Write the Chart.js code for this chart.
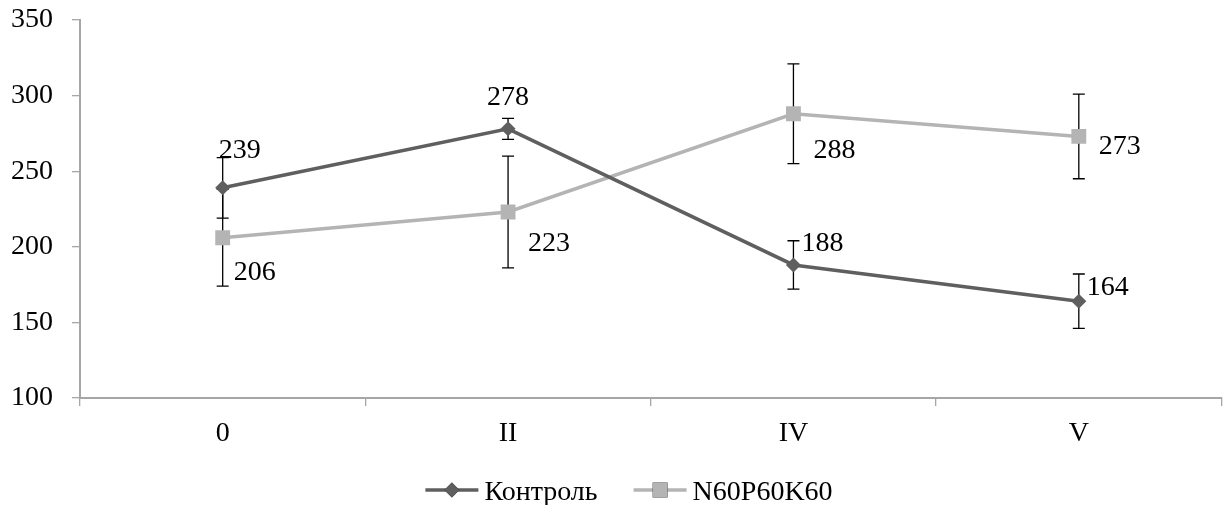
<!DOCTYPE html>
<html>
<head>
<meta charset="utf-8">
<script src="https://cdn.jsdelivr.net/npm/chart.js@4.4.0/dist/chart.umd.min.js"></script>
<style>
  html, body { margin: 0; padding: 0; background: #fff; }
  #wrap { width: 1232px; height: 505px; }
</style>
</head>
<body>
<div id="wrap"><canvas id="graf"></canvas></div>
<script>
// dados do gráfico
const categorias = ['0', 'II', 'IV', 'V'];
const controle = [239, 278, 188, 164];
const controleErro = [20, 7, 16, 18];
const npk = [206, 223, 288, 273];
const npkErro = [32, 37, 33, 28];
const yTicks = [100, 150, 200, 250, 300, 350];

const fonte = '"Liberation Serif", "Times New Roman", serif';
const tam = 28;
const corControle = '#5f5f5f';
const corNpk = '#b4b4b4';
const corEixo = '#a6a6a6';

// deslocamento dos rótulos (centro do texto em relação ao ponto)
const posRotulos = [
  [[17, -39], [0, -33], [29, -23], [29, -16]],
  [[32, 33], [41, 29], [41, 35], [41, 8]]
];

const barrasErro = {
  id: 'barrasErro',
  beforeDatasetsDraw(chart) {
    const ctx = chart.ctx;
    const y = chart.scales.y;
    ctx.save();
    ctx.strokeStyle = '#000';
    ctx.lineWidth = 1.3;
    chart.data.datasets.forEach((ds, i) => {
      const meta = chart.getDatasetMeta(i);
      meta.data.forEach((pt, j) => {
        const v = ds.data[j], e = ds.erro[j];
        const y1 = y.getPixelForValue(v + e), y2 = y.getPixelForValue(v - e);
        ctx.beginPath();
        ctx.moveTo(pt.x, y1); ctx.lineTo(pt.x, y2);
        ctx.moveTo(pt.x - 6, y1); ctx.lineTo(pt.x + 6, y1);
        ctx.moveTo(pt.x - 6, y2); ctx.lineTo(pt.x + 6, y2);
        ctx.stroke();
      });
    });
    ctx.restore();
  },
  afterDatasetsDraw(chart) {
    const ctx = chart.ctx;
    ctx.save();
    ctx.fillStyle = '#000';
    ctx.font = tam + 'px ' + fonte;
    ctx.textAlign = 'center';
    ctx.textBaseline = 'alphabetic';
    chart.data.datasets.forEach((ds, i) => {
      const meta = chart.getDatasetMeta(i);
      meta.data.forEach((pt, j) => {
        const d = posRotulos[i][j];
        ctx.fillText(String(ds.data[j]), pt.x + d[0], pt.y + d[1] + 9.5);
      });
    });
    ctx.restore();
  },
  afterDraw(chart) {
    // legenda com linha + marcador
    const ctx = chart.ctx;
    ctx.save();
    ctx.font = tam + 'px ' + fonte;
    const itens = chart.data.datasets.map(ds => ({
      ds, w: 53 + 6 + ctx.measureText(ds.label).width
    }));
    const gap = 36;
    const total = itens.reduce((s, it) => s + it.w, 0) + gap * (itens.length - 1);
    let x = chart.width / 2 + 13 - total / 2;
    const yl = 490;
    itens.forEach(it => {
      ctx.strokeStyle = it.ds.borderColor;
      ctx.lineWidth = 3.5;
      ctx.beginPath();
      ctx.moveTo(x, yl); ctx.lineTo(x + 53, yl);
      ctx.stroke();
      Chart.helpers.drawPoint(ctx, {
        pointStyle: it.ds.pointStyle, radius: it.ds.pointRadius,
        borderWidth: 0
      }, x + 26.5, yl);
      ctx.fillStyle = it.ds.borderColor;
      ctx.fill();
      ctx.fillStyle = '#000';
      ctx.textAlign = 'left';
      ctx.textBaseline = 'alphabetic';
      ctx.fillText(it.ds.label, x + 59, yl + 10);
      x += it.w + gap;
    });
    ctx.restore();
  }
};

new Chart(document.getElementById('graf'), {
  type: 'line',
  data: {
    labels: categorias,
    datasets: [
      {
        label: 'Контроль',
        data: controle,
        erro: controleErro,
        borderColor: corControle,
        backgroundColor: corControle,
        borderWidth: 3.5,
        pointStyle: 'rectRot',
        pointRadius: 7.5,
        pointBorderWidth: 0,
        tension: 0
      },
      {
        label: 'N60P60K60',
        data: npk,
        erro: npkErro,
        borderColor: corNpk,
        backgroundColor: corNpk,
        borderWidth: 3.5,
        pointStyle: 'rect',
        pointRadius: 10.5,
        pointBorderWidth: 0,
        tension: 0
      }
    ]
  },
  options: {
    responsive: true,
    maintainAspectRatio: false,
    animation: false,
    layout: { padding: { top: 20, right: 2, left: 0, bottom: 0 } },
    plugins: {
      legend: { display: false },
      tooltip: { enabled: false }
    },
    scales: {
      x: {
        offset: true,
        grid: { offset: true, drawOnChartArea: false, tickLength: 8, color: corEixo, lineWidth: 1.3 },
        border: { color: corEixo, width: 2 },
        ticks: { color: '#000', font: { family: fonte, size: tam }, padding: 11, maxRotation: 0 },
        afterFit: s => { s.height = 107; s.paddingLeft = 0; s.paddingRight = 0; }
      },
      y: {
        min: 100,
        max: 350,
        afterBuildTicks: s => { s.ticks = yTicks.map(v => ({ value: v })); },
        grid: { drawOnChartArea: false, tickLength: 8, color: corEixo, lineWidth: 1.3 },
        border: { color: corEixo, width: 2 },
        ticks: { color: '#000', font: { family: fonte, size: tam }, padding: 19 },
        afterFit: s => { s.width = 80; s.paddingTop = 0; s.paddingBottom = 0; }
      }
    }
  },
  plugins: [barrasErro]
});
</script>
</body>
</html>
